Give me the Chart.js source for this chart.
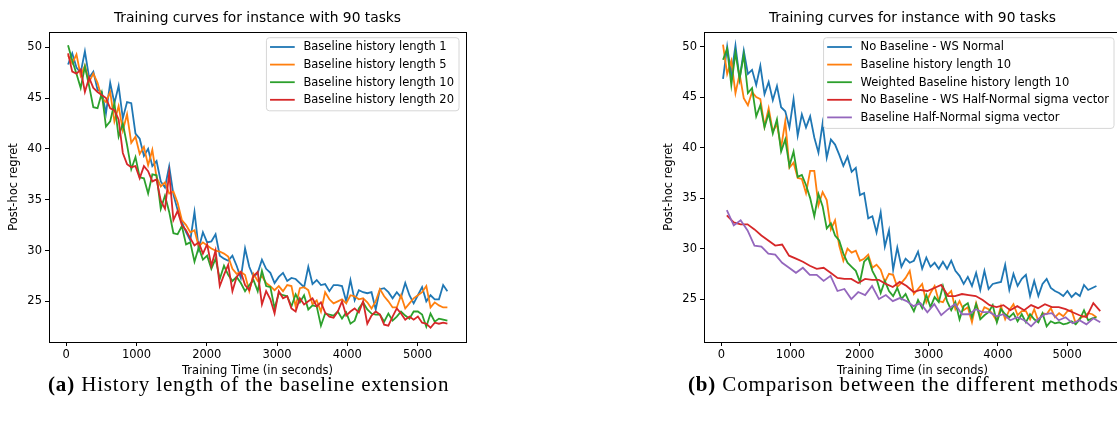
<!DOCTYPE html>
<html>
<head>
<meta charset="utf-8">
<script src="https://cdn.jsdelivr.net/npm/chart.js@4.4.1/dist/chart.umd.min.js"></script>
<style>
  body { margin: 0; width: 1117px; height: 421px; overflow: hidden; background: #fff; position: relative; }
  .panel { position: absolute; top: 0; }
  .caption { position: absolute; top: 373px; height: 22px; line-height: 22px; font-family: "Liberation Serif", serif; font-size: 21px; letter-spacing: 0.85px; white-space: nowrap; color: #000; }
</style>
</head>
<body>
<div class="panel" style="left:0"><canvas id="left" width="480" height="380"></canvas></div>
<div class="panel" style="left:655px"><canvas id="right" width="470" height="380"></canvas></div>
<div class="caption" style="left:48px"><b>(a)</b> History length of the baseline extension</div>
<div class="caption" style="left:688px"><b>(b)</b> Comparison between the different methods</div>
<script>
const chartTitle = "Training curves for instance with 90 tasks";
const xTitle = "Training Time (in seconds)";
const yTitle = "Post-hoc regret";
const xTicks = [0, 1000, 2000, 3000, 4000, 5000];
const yTicks = [25, 30, 35, 40, 45, 50];
const colors = ["#1f77b4", "#ff7f0e", "#2ca02c", "#d62728", "#9467bd"];

// logging times (seconds)
const logTimes = [25,85,145,205,265,325,385,445,505,565,625,685,745,805,865,925,985,1045,1105,1165,1225,1285,1345,1405,1465,1525,1585,1645,1705,1765,1825,1885,1945,2005,2065,2125,2185,2245,2305,2365,2425,2485,2545,2605,2665,2725,2785,2845,2905,2965,3025,3085,3145,3205,3265,3325,3385,3445,3505,3565,3625,3685,3745,3805,3865,3925,3985,4045,4105,4165,4225,4285,4345,4405,4465,4525,4585,4645,4705,4765,4825,4885,4945,5005,5065,5125,5185,5245,5305,5365,5425];
const sigmaTimes = [80,180,280,380,480,580,680,780,880,980,1080,1180,1280,1380,1480,1580,1680,1780,1880,1980,2080,2180,2280,2380,2480,2580,2680,2780,2880,2980,3080,3180,3280,3380,3480,3580,3680,3780,3880,3980,4080,4180,4280,4380,4480,4580,4680,4780,4880,4980,5080,5180,5280,5380,5480];

// (a) history length
const leftLabels = ["Baseline history length 1", "Baseline history length 5", "Baseline history length 10", "Baseline history length 20"];
const hist1 = [48.3,49.4,48.0,47.5,49.6,47.0,47.6,45.8,45.6,43.5,46.5,44.5,46.2,43.0,44.6,44.5,41.5,41.0,39.3,40.0,38.3,38.8,36.8,36.2,38.3,35.5,34.0,32.8,31.8,31.0,33.8,30.2,31.8,30.8,30.9,31.6,29.5,29.2,29.0,29.5,28.5,27.3,30.2,28.4,27.4,27.8,29.1,28.2,27.8,26.8,27.4,27.8,27.0,27.3,27.2,26.8,26.4,28.4,26.7,27.1,26.6,26.7,26.0,26.6,26.6,26.5,25.0,27.1,25.1,26.1,25.9,25.8,25.9,24.2,26.2,26.3,25.9,25.3,25.9,25.4,26.8,25.6,24.8,25.6,26.4,25.0,25.6,25.2,25.2,26.6,26.0];
const hist5 = [49.2,48.4,49.3,47.2,48.2,46.6,47.4,46.5,45.0,44.6,45.6,42.7,44.2,41.8,43.4,40.6,41.2,39.5,40.2,38.4,39.9,37.2,36.3,36.7,35.6,35.8,34.7,33.0,32.5,31.8,32.0,30.4,30.8,30.5,30.2,30.0,29.9,29.7,29.4,28.2,27.7,27.9,27.6,26.0,27.7,27.0,27.5,26.8,26.5,26.1,26.5,26.0,26.6,26.5,24.5,26.3,26.4,26.1,24.7,25.1,24.0,25.9,25.2,24.8,25.0,25.2,24.8,25.6,25.5,25.2,25.3,24.9,24.3,25.0,26.2,25.5,25.0,24.4,24.4,25.6,24.3,24.8,25.3,25.6,25.9,26.5,24.4,24.9,24.6,24.4,24.4];
const hist10 = [50.2,48.7,47.4,46.0,48.1,46.2,44.1,44.0,45.5,42.2,42.7,44.5,41.2,42.5,40.4,38.0,39.2,37.2,37.1,35.6,37.5,37.4,34.1,35.4,33.8,31.7,31.6,32.4,30.6,30.8,28.9,30.3,29.1,29.5,28.2,29.2,27.2,28.5,27.6,27.0,27.4,26.8,26.0,26.6,27.1,26.0,28.0,26.5,26.4,24.3,25.8,25.6,25.5,24.5,25.7,24.9,25.6,24.2,24.6,24.5,22.6,23.8,23.7,23.6,24.0,23.3,23.9,22.8,23.1,24.3,24.9,24.2,23.8,23.7,23.7,23.0,23.8,23.1,23.5,24.0,23.6,23.3,24.0,24.0,23.7,22.5,23.8,23.0,23.3,23.2,23.1];
const hist20 = [49.4,47.6,47.4,47.8,45.6,47.0,46.0,45.6,45.3,45.0,44.0,43.8,42.9,39.6,38.5,38.2,38.3,37.1,38.3,37.8,36.8,37.0,34.9,34.1,37.6,33.0,33.9,32.5,32.0,31.2,30.5,30.8,29.7,30.6,28.5,30.0,26.5,27.6,28.6,26.0,27.4,27.9,26.6,26.1,27.5,27.9,24.7,26.0,25.2,23.8,26.0,25.3,25.5,24.3,24.0,25.3,24.7,25.0,25.3,24.5,24.9,23.9,23.5,23.4,24.0,25.0,23.6,24.0,24.3,23.9,25.0,22.8,23.6,24.0,23.7,22.7,22.6,23.5,24.3,23.8,23.2,23.5,23.2,23.5,22.9,22.8,22.4,22.9,22.8,22.9,22.8];

// (b) comparison between methods
const rightLabels = ["No Baseline - WS Normal", "Baseline history length 10", "Weighted Baseline history length 10", "No Baseline - WS Half-Normal sigma vector", "Baseline Half-Normal sigma vector"];
const wsNormal = [46.8,50.0,47.2,50.1,46.8,49.6,47.3,47.7,46.2,48.1,45.3,46.5,44.7,46.1,44.0,43.6,42.0,44.8,41.2,43.3,42.0,43.1,41.0,39.5,42.4,39.0,40.8,40.3,39.3,38.2,39.1,37.6,38.0,35.3,35.5,33.0,33.2,31.6,33.6,30.2,31.8,27.9,30.1,28.2,29.0,28.6,28.8,29.7,28.0,29.1,28.2,28.6,28.0,28.7,28.0,28.8,27.8,27.3,26.5,27.2,26.3,27.6,25.9,27.8,26.0,26.5,26.6,26.7,28.4,25.9,27.5,26.3,27.0,27.4,25.3,26.8,25.3,26.5,27.0,26.1,25.8,25.6,25.3,25.8,25.2,25.6,25.3,26.4,25.9,26.1,26.3];
const baseHist10 = [50.2,47.3,48.6,45.4,47.3,44.9,44.2,45.5,45.0,44.8,42.1,43.9,41.6,42.3,40.0,42.6,38.0,38.5,37.0,36.9,35.5,37.7,37.7,34.3,35.6,34.8,31.9,32.8,30.3,28.8,30.0,29.6,29.8,28.8,29.0,29.4,28.1,28.4,27.9,26.7,27.5,27.4,26.2,26.6,27.1,27.8,25.5,26.0,26.5,24.7,25.6,26.3,24.8,24.7,25.4,25.8,24.0,24.8,23.9,24.2,22.7,24.6,23.3,24.2,24.0,23.5,22.8,24.3,23.0,23.9,24.5,23.4,23.8,23.8,23.0,24.0,22.8,23.6,23.5,24.1,23.2,23.6,23.3,23.8,23.9,22.6,23.1,23.3,23.6,23.5,23.2];
const weightedHist10 = [48.7,49.8,46.2,49.4,46.8,49.2,45.4,45.9,43.1,44.2,42.0,43.4,41.4,42.8,39.6,40.8,38.2,39.6,37.1,37.3,36.3,35.0,33.2,35.4,34.2,32.0,32.5,31.3,30.8,29.5,28.6,28.2,27.8,26.7,28.7,29.1,27.8,27.0,25.6,26.8,25.8,25.3,26.1,25.0,25.5,24.6,23.8,24.9,24.1,25.4,24.2,25.2,24.7,26.3,24.8,23.9,24.7,23.0,24.3,24.6,23.2,24.5,23.0,23.4,23.7,24.4,22.7,24.0,23.5,23.2,23.6,22.8,23.5,22.7,23.5,23.0,22.7,23.6,22.3,22.8,22.6,22.7,22.5,22.6,22.8,22.5,23.0,23.9,22.9,23.1,23.2];
const wsHalfNormal = [33.3,32.6,32.4,32.4,31.9,31.3,30.8,30.3,30.4,29.3,29.0,28.7,28.3,28.0,28.1,27.6,27.1,27.0,27.0,26.6,27.0,26.9,26.9,26.5,26.2,26.7,26.3,25.7,25.9,25.8,26.1,26.4,25.3,25.3,25.5,25.4,25.3,24.9,24.4,24.2,24.4,23.9,24.3,23.9,24.4,24.1,24.5,24.2,24.2,24.0,23.7,23.4,23.2,24.6,23.8];
const baseHalfNormal = [33.8,32.3,32.8,31.8,30.3,30.2,29.5,29.4,28.6,28.1,27.6,28.1,27.4,27.4,26.8,27.3,25.8,26.0,25.0,25.7,25.4,26.3,25.0,25.4,24.8,25.1,24.8,24.3,24.6,23.7,24.5,23.4,24.0,24.5,23.5,23.5,24.0,23.7,23.7,23.3,23.5,22.9,23.2,22.9,22.3,23.0,23.5,23.6,22.9,23.2,22.6,22.9,22.5,23.1,22.7];

const FONT = '"DejaVu Sans", sans-serif';

function series(times, vals) {
    return times.map((t, i) => ({ x: t, y: vals[i] }));
}

// axes frame (all four spines) and title centred over the axes
const frame = {
    id: 'frame',
    beforeDatasetsDraw(chart) {
        const { ctx, chartArea: a } = chart;
        ctx.save();
        ctx.strokeStyle = '#000';
        ctx.lineWidth = 1;
        ctx.strokeRect(Math.round(a.left) + 0.5, Math.round(a.top) + 0.5, Math.round(a.right - a.left), Math.round(a.bottom - a.top));
        ctx.fillStyle = '#000';
        ctx.font = '13.8px ' + FONT;
        ctx.textAlign = 'center';
        ctx.textBaseline = 'middle';
        ctx.fillText(chartTitle, (a.left + a.right) / 2, 18.8);
        ctx.restore();
    }
};

// matplotlib-like legend box in the upper right corner
const boxLegend = {
    id: 'boxLegend',
    afterDraw(chart) {
        const { ctx, chartArea: a } = chart;
        const sets = chart.data.datasets;
        ctx.save();
        ctx.font = '11.5px ' + FONT;
        const textW = Math.max(...sets.map(d => ctx.measureText(d.label).width));
        const w = 37 + textW + 5;
        const h = 9.3 + (sets.length - 1) * 17.6 + 11;
        const x = a.right - 7 - w;
        const y = a.top + 5.7;
        ctx.beginPath();
        ctx.roundRect(x, y, w, h, 3);
        ctx.fillStyle = 'rgba(255,255,255,0.8)';
        ctx.fill();
        ctx.strokeStyle = '#d6d6d6';
        ctx.lineWidth = 1;
        ctx.stroke();
        sets.forEach((d, i) => {
            const cy = y + 9.3 + i * 17.6;
            ctx.beginPath();
            ctx.moveTo(x + 3.6, cy);
            ctx.lineTo(x + 28.3, cy);
            ctx.strokeStyle = d.borderColor;
            ctx.lineWidth = 1.8;
            ctx.stroke();
            ctx.fillStyle = '#000';
            ctx.textBaseline = 'middle';
            ctx.fillText(d.label, x + 37, cy + 0.5);
        });
        ctx.restore();
    }
};

function makeChart(id, labels, sets, xMin, xMax, yMin, yMax, padRight) {
    const ctx = document.getElementById(id).getContext('2d');
    return new Chart(ctx, {
        type: 'line',
        data: {
            datasets: sets.map((s, i) => ({
                label: labels[i],
                data: series(s[0], s[1]),
                borderColor: colors[i],
                backgroundColor: colors[i],
                borderWidth: 1.8,
                pointRadius: 0,
                tension: 0,
                fill: false,
                order: -i
            }))
        },
        options: {
            responsive: false,
            animation: false,
            devicePixelRatio: 1,
            layout: { padding: { left: 0, right: padRight, top: 32, bottom: 0 } },
            plugins: {
                legend: { display: false },
                tooltip: { enabled: false },
                title: { display: false }
            },
            scales: {
                x: {
                    type: 'linear',
                    min: xMin, max: xMax,
                    afterBuildTicks: (scale) => { scale.ticks = xTicks.map(v => ({ value: v })); },
                    afterFit: (scale) => { scale.height = 38; },
                    border: { display: false },
                    grid: { drawOnChartArea: false, tickLength: 4, tickColor: '#000', tickWidth: 1 },
                    ticks: { color: '#000', padding: 2, maxRotation: 0, font: { family: FONT, size: 11.5 }, callback: (v) => String(v) },
                    title: { display: true, text: xTitle, color: '#000', font: { family: FONT, size: 11.5 }, padding: { top: 0, bottom: 2.4 } }
                },
                y: {
                    type: 'linear',
                    min: yMin, max: yMax,
                    afterBuildTicks: (scale) => { scale.ticks = yTicks.map(v => ({ value: v })); },
                    afterFit: (scale) => { scale.width = 49; },
                    border: { display: false },
                    grid: { drawOnChartArea: false, tickLength: 4, tickColor: '#000', tickWidth: 1 },
                    ticks: { color: '#000', padding: 3, font: { family: FONT, size: 11.5 }, callback: (v) => String(v) },
                    title: { display: true, text: yTitle, color: '#000', font: { family: FONT, size: 11.5 }, padding: { top: 7.1, bottom: 0 } }
                }
            }
        },
        plugins: [frame, boxLegend]
    });
}

makeChart('left', leftLabels, [
    [logTimes, hist1], [logTimes, hist5], [logTimes, hist10], [logTimes, hist20]
], -246, 5690, 21.0, 51.5, 14);

makeChart('right', rightLabels, [
    [logTimes, wsNormal], [logTimes, baseHist10], [logTimes, weightedHist10],
    [sigmaTimes, wsHalfNormal], [sigmaTimes, baseHalfNormal]
], -250, 5780, 20.75, 51.45, 4);
</script>
</body>
</html>
